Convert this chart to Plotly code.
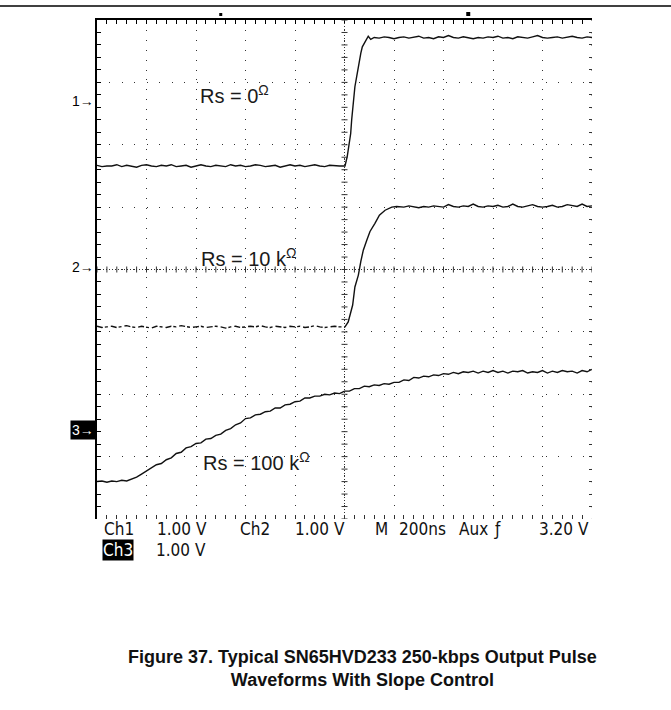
import plotly.graph_objects as go

# ---------------------------------------------------------------------------
# Scope record: time base in ns (200 ns/div, trigger at 0), amplitudes in volts
# (1.00 V/div on every channel).  Each channel is drawn about its ground marker.
# ---------------------------------------------------------------------------
SAMPLE_NS = 20

# Channel ground-marker positions on screen (divisions from centre)
CH_POS = {1: 2.70, 2: 0.04, 3: -2.57}

# --- Channel 1 : Rs = 0 ohm -------------------------------------------------
CH1_LOW_V = [-1.03, -1.05, -1.04, -1.04, -1.02, -1.05, -1.03, -1.04, -1.06, -1.03,
             -1.02, -1.04, -1.05, -1.03, -1.04, -1.02, -1.05, -1.04, -1.03, -1.06,
             -1.04, -1.02, -1.04, -1.05, -1.03, -1.04, -1.05, -1.02, -1.04, -1.03,
             -1.05, -1.04, -1.02, -1.03, -1.05, -1.04, -1.03, -1.06, -1.04, -1.02,
             -1.04, -1.03, -1.05, -1.04, -1.02, -1.04, -1.05, -1.03, -1.04, -1.04]
CH1_EDGE_T = [0, 2, 11, 19, 25, 29, 36, 42, 49, 56, 66, 72, 83, 96, 106, 116]
CH1_EDGE_V = [-1.04, -1.04, -0.89, -0.68, -0.52, -0.30, 0.02, 0.23, 0.39, 0.58,
              0.77, 0.87, 0.95, 1.04, 0.99, 1.02]
CH1_HIGH_START = 120
CH1_HIGH_V = [1.02, 1.01, 1.03, 1.02, 1.00, 1.02, 1.03, 1.01, 1.02, 1.04,
              1.01, 1.02, 1.00, 1.03, 1.02, 1.05, 1.02, 1.01, 1.03, 1.02,
              1.00, 1.02, 1.01, 1.03, 1.02, 1.04, 1.01, 1.02, 1.00, 1.03,
              1.02, 1.01, 1.03, 1.05, 1.02, 1.01, 1.02, 1.03, 1.01, 1.02,
              1.04, 1.02, 1.01, 1.03, 1.02]

# --- Channel 2 : Rs = 10 kohm -----------------------------------------------
CH2_LOW_V = [-0.95, -0.97, -0.96, -0.95, -0.97, -0.96, -0.94, -0.96, -0.97, -0.95,
             -0.96, -0.98, -0.95, -0.96, -0.97, -0.95, -0.96, -0.94, -0.96, -0.97,
             -0.96, -0.95, -0.97, -0.96, -0.95, -0.96, -0.98, -0.96, -0.95, -0.97,
             -0.96, -0.95, -0.96, -0.94, -0.96, -0.97, -0.95, -0.96, -0.97, -0.95,
             -0.96, -0.95, -0.97, -0.96, -0.94, -0.96, -0.97, -0.96, -0.95, -0.96]
CH2_EDGE_T = [0, 2, 15, 25, 33, 42, 56, 66, 76, 90, 103, 123, 141, 164, 191, 211]
CH2_EDGE_V = [-0.96, -0.96, -0.88, -0.74, -0.61, -0.32, -0.13, 0.09, 0.27, 0.43,
              0.57, 0.70, 0.83, 0.91, 0.96, 0.97]
CH2_HIGH_START = 220
CH2_HIGH_V = [0.97, 0.96, 0.98, 0.97, 0.95, 0.97, 0.96, 0.98, 0.97, 0.96,
              1.00, 0.97, 0.96, 0.98, 0.97, 1.01, 0.97, 0.96, 0.98, 0.97,
              0.99, 0.96, 0.97, 1.01, 0.97, 0.96, 0.98, 1.00, 0.97, 0.96,
              0.97, 0.99, 0.96, 0.97, 1.00, 0.98, 0.97, 1.01, 0.97, 0.98]

# --- Channel 3 : Rs = 100 kohm (whole record, -1000 .. 1000 ns) ------------
CH3_V = [-0.83, -0.82, -0.84, -0.82, -0.83, -0.81, -0.82, -0.79, -0.76, -0.71,
         -0.66, -0.62, -0.56, -0.54, -0.48, -0.45, -0.38, -0.36, -0.29, -0.27,
         -0.22, -0.21, -0.15, -0.14, -0.09, -0.07, -0.01, 0.02, 0.08, 0.11,
         0.18, 0.19, 0.24, 0.25, 0.29, 0.30, 0.35, 0.35, 0.40, 0.41,
         0.45, 0.46, 0.51, 0.51, 0.54, 0.54, 0.57, 0.56, 0.59, 0.58,
         0.62, 0.62, 0.66, 0.66, 0.70, 0.69, 0.72, 0.71, 0.74, 0.73,
         0.76, 0.76, 0.80, 0.79, 0.84, 0.83, 0.86, 0.85, 0.88, 0.87,
         0.90, 0.89, 0.92, 0.90, 0.93, 0.92, 0.94, 0.91, 0.94, 0.92,
         0.95, 0.92, 0.94, 0.91, 0.94, 0.93, 0.95, 0.91, 0.93, 0.92,
         0.95, 0.91, 0.94, 0.92, 0.95, 0.93, 0.94, 0.91, 0.95, 0.93,
         0.97]

LABELS = {1: "Rs = 0<sup>Ω</sup>", 2: "Rs = 10 k<sup>Ω</sup>", 3: "Rs = 100 k<sup>Ω</sup>"}
STATUS_ROW1 = ["Ch1", "1.00 V", "Ch2", "1.00 V", "M", "200ns", "Aux", "ƒ", "3.20 V"]
STATUS_ROW2 = ["Ch3", "1.00 V"]
CAPTION = ("Figure 37. Typical SN65HVD233 250-kbps Output Pulse<br>"
           "Waveforms With Slope Control")

T_START, T_END = -1000, 1000
DIVS_X, DIVS_Y = 10, 8


def times(start, n):
    return [start + i * SAMPLE_NS for i in range(n)]


def screen(values, ch):
    return [v + CH_POS[ch] for v in values]


INK = "#111111"
LINE_W = 1.4
fig = go.Figure()

# Channel 1
t1 = times(T_START, len(CH1_LOW_V)) + CH1_EDGE_T + times(CH1_HIGH_START, len(CH1_HIGH_V))
v1 = CH1_LOW_V + CH1_EDGE_V + CH1_HIGH_V
fig.add_trace(go.Scatter(x=t1, y=screen(v1, 1), mode="lines",
                         line=dict(color=INK, width=LINE_W)))

# Channel 2 (the low level before the edge shows up broken on this trace)
t2_low = times(T_START, len(CH2_LOW_V)) + CH2_EDGE_T[:1]
fig.add_trace(go.Scatter(x=t2_low, y=screen(CH2_LOW_V + CH2_EDGE_V[:1], 2), mode="lines",
                         line=dict(color=INK, width=LINE_W, dash="6px,2px,3px,3px")))
t2 = CH2_EDGE_T + times(CH2_HIGH_START, len(CH2_HIGH_V))
fig.add_trace(go.Scatter(x=t2, y=screen(CH2_EDGE_V + CH2_HIGH_V, 2), mode="lines",
                         line=dict(color=INK, width=LINE_W)))

# Channel 3
fig.add_trace(go.Scatter(x=times(T_START, len(CH3_V)), y=screen(CH3_V, 3), mode="lines",
                         line=dict(color=INK, width=LINE_W)))

# Empty trace that activates the mirrored tick axes (bottom / right edges)
fig.add_trace(go.Scatter(x=[None], y=[None], xaxis="x2", yaxis="y2", hoverinfo="skip"))

div_t = (T_END - T_START) / DIVS_X
minor_t = div_t / 5
half_y = DIVS_Y / 2

# pixel geometry of the graticule
PLOT_W, PLOT_H = 495, 499
minor_px_x = PLOT_W / DIVS_X / 5
minor_px_y = PLOT_H / DIVS_Y / 5
GRID = "#333333"

common_x = dict(range=[T_START, T_END], showticklabels=False, zeroline=False, fixedrange=True)
common_y = dict(range=[-half_y, half_y], showticklabels=False, zeroline=False, fixedrange=True)

fig.update_layout(
    width=671, height=710,
    margin=dict(l=97, r=79, t=20, b=191, pad=0),
    paper_bgcolor="white", plot_bgcolor="white",
    showlegend=False,
    xaxis=dict(**common_x, side="top",
               showline=True, linecolor="black", linewidth=1.5,
               showgrid=True, gridcolor=GRID, gridwidth=1,
               griddash=f"1px,{minor_px_x - 1:.2f}px",
               tick0=T_START, dtick=div_t, ticks="inside", ticklen=4,
               tickcolor="black", tickwidth=1,
               minor=dict(tick0=T_START, dtick=minor_t, ticks="inside", ticklen=4,
                          tickcolor="black", tickwidth=1, showgrid=False)),
    yaxis=dict(**common_y,
               showline=True, linecolor="black", linewidth=1.5,
               showgrid=True, gridcolor=GRID, gridwidth=1,
               griddash=f"1px,{minor_px_y - 1:.2f}px",
               tick0=0, dtick=1, ticks="inside", ticklen=4,
               tickcolor="black", tickwidth=1,
               minor=dict(tick0=0, dtick=0.2, ticks="inside", ticklen=4,
                          tickcolor="black", tickwidth=1, showgrid=False)),
    xaxis2=dict(**common_x, overlaying="x", side="bottom", anchor="y2",
                showline=False, showgrid=False,
                tick0=T_START, dtick=minor_t, ticks="inside", ticklen=4,
                tickcolor=GRID, tickwidth=1),
    yaxis2=dict(**common_y, overlaying="y", side="right", anchor="x2",
                showline=False, showgrid=False,
                tick0=0, dtick=0.2, ticks="inside", ticklen=3,
                tickcolor=GRID, tickwidth=1),
)

shapes = []
# right edge of the graticule (dotted)
shapes.append(dict(type="line", xref="x", yref="y", x0=T_END, x1=T_END,
                   y0=half_y, y1=-half_y,
                   line=dict(color=GRID, width=1, dash=f"1px,{minor_px_y - 1:.2f}px")))
# centre cross: dense dotted lines with small ticks at every minor division
shapes.append(dict(type="line", xref="x", yref="y", x0=0, x1=0, y0=half_y, y1=-half_y,
                   line=dict(color=GRID, width=1, dash="1px,2px")))
shapes.append(dict(type="line", xref="x", yref="y", x0=T_START, x1=T_END, y0=0, y1=0,
                   line=dict(color=GRID, width=1, dash="1px,2px")))
for i in range(DIVS_Y * 5 + 1):
    yv = -half_y + i * 0.2
    shapes.append(dict(type="line", xref="x", yref="y", xsizemode="pixel", xanchor=0,
                       x0=-3, x1=3, y0=yv, y1=yv, line=dict(color=GRID, width=1)))
for i in range(DIVS_X * 5 + 1):
    xv = T_START + i * minor_t
    shapes.append(dict(type="line", xref="x", yref="y", ysizemode="pixel", yanchor=0,
                       y0=-3, y1=3, x0=xv, x1=xv, line=dict(color=GRID, width=1)))
# cursor markers above the graticule at -/+ 500 ns
for xm, size in ((-500, 3), (500, 4)):
    shapes.append(dict(type="rect", xref="x", yref="paper", xsizemode="pixel", ysizemode="pixel",
                       xanchor=xm, yanchor=1.0, x0=-size / 2, x1=size / 2, y0=4, y1=4 + size,
                       fillcolor="black", line=dict(width=0)))
# rule across the top of the page
shapes.append(dict(type="line", xref="paper", yref="paper", x0=-0.2, x1=1.2,
                   y0=1.028, y1=1.028, line=dict(color="black", width=1.5)))
fig.update_layout(shapes=shapes)

ann = []
LABEL_FONT = dict(family="Liberation Sans, Arial, sans-serif", size=20, color="#1a1a1a")
label_pos = {1: (-590, 2.80), 2: (-588, 0.19), 3: (-578, -3.08)}
for ch, txt in LABELS.items():
    x, y = label_pos[ch]
    ann.append(dict(x=x, y=y, xref="x", yref="y", text=txt, showarrow=False,
                    xanchor="left", yanchor="middle", font=LABEL_FONT))

# channel ground markers
MARK_FONT = dict(family="Liberation Sans, Arial, sans-serif", size=14, color="black")
for ch in (1, 2, 3):
    inv = ch == 3
    ann.append(dict(x=0, y=CH_POS[ch], xref="paper", yref="y", text=f"{ch}→",
                    showarrow=False, xanchor="right", yanchor="middle", xshift=-1,
                    bgcolor="black" if inv else None, borderpad=1,
                    font=dict(MARK_FONT, color="white" if inv else "black")))

# status line under the graticule
STATUS_FONT = dict(family="Liberation Sans Narrow, DejaVu Sans Condensed, Arial Narrow, sans-serif",
                   size=17, color="#111111")
row1_x = [101.7, 155, 238, 293, 373, 397, 457, 492, 537]
for txt, px in zip(STATUS_ROW1, row1_x):
    ann.append(dict(x=(px - 97) / PLOT_W, y=(519 - 529) / PLOT_H, xref="paper", yref="paper",
                    text=txt, showarrow=False, xanchor="left", yanchor="middle",
                    font=STATUS_FONT))
row2_x = [101.7, 155]
for i, (txt, px) in enumerate(zip(STATUS_ROW2, row2_x)):
    ann.append(dict(x=(px - 97) / PLOT_W, y=(519 - 549.5) / PLOT_H, xref="paper", yref="paper",
                    text=txt, showarrow=False, xanchor="left", yanchor="middle",
                    bgcolor="black" if i == 0 else None, borderpad=0,
                    font=dict(STATUS_FONT, color="white" if i == 0 else "#111111")))

# figure caption
ann.append(dict(x=(362 - 97) / PLOT_W, y=(519 - 668) / PLOT_H, xref="paper", yref="paper",
                text=f"<b>{CAPTION}</b>", showarrow=False, xanchor="center", yanchor="middle",
                align="center",
                font=dict(family="Liberation Sans, Arial, sans-serif", size=18, color="#111111")))
fig.update_layout(annotations=ann)

fig.write_html("out.html")
